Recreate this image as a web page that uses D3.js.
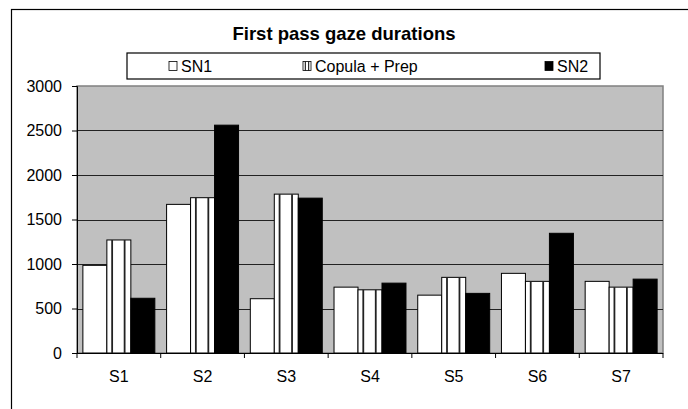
<!DOCTYPE html>
<html>
<head>
<meta charset="utf-8">
<script src="https://cdn.jsdelivr.net/npm/d3@7"></script>
<style>
  body { margin: 0; background: #fff; }
  svg { display: block; font-family: 'Liberation Sans', Arial, sans-serif; }
  .axis .domain { stroke: #000; }
  .axis line { stroke: #000; }
</style>
</head>
<body>
<div id="chart"></div>
<script>
const categories = ['S1', 'S2', 'S3', 'S4', 'S5', 'S6', 'S7']
const seriesNames = ['SN1', 'Copula + Prep', 'SN2']
const sn1 = [985, 1670, 610, 740, 650, 895, 805]
const copula = [1270, 1745, 1785, 710, 850, 805, 740]
const sn2 = [615, 2560, 1740, 785, 670, 1345, 830]
const yTicks = [0, 500, 1000, 1500, 2000, 2500, 3000]

const width = 688
const height = 409
const margin = { left: 77, right: 25, top: 86, bottom: 56 }
const plotW = width - margin.left - margin.right
const plotH = height - margin.top - margin.bottom
const fontFamily = "'Liberation Sans', Arial, sans-serif"

const svg = d3.select('#chart').append('svg')
  .attr('width', width)
  .attr('height', height)

// outer chart frame, runs off the page to the right and bottom
svg.append('rect')
  .attr('x', 11.5).attr('y', 9.5)
  .attr('width', 700).attr('height', 420)
  .attr('fill', 'none').attr('stroke', '#000').attr('stroke-width', 1.2)

svg.append('text')
  .attr('x', 344).attr('y', 40)
  .attr('text-anchor', 'middle')
  .style('font-size', '18.5px').style('font-weight', 'bold')
  .text('First pass gaze durations')

const g = svg.append('g').attr('transform', `translate(${margin.left},${margin.top})`)

const x0 = d3.scaleBand().domain(categories).range([0, plotW]).paddingInner(0).paddingOuter(0)
const x1 = d3.scaleBand().domain(seriesNames).range([0, x0.bandwidth()]).paddingOuter(0.245).paddingInner(0)
const y = d3.scaleLinear().domain([0, 3000]).range([plotH, 0])

// plot area
g.append('rect')
  .attr('width', plotW).attr('height', plotH)
  .attr('fill', '#c0c0c0').attr('stroke', '#808080').attr('stroke-width', 1.5)

g.append('g')
  .attr('class', 'grid')
  .selectAll('line')
  .data(yTicks.filter((d) => d > 0 && d < 3000))
  .join('line')
  .attr('x1', 0).attr('x2', plotW)
  .attr('y1', (d) => Math.round(y(d)) + 0.5).attr('y2', (d) => Math.round(y(d)) + 0.5)
  .attr('stroke', '#222').attr('stroke-width', 1)

const rows = categories.map((c, i) => ({ cat: c, vals: [sn1[i], copula[i], sn2[i]] }))
const fills = ['#fff', '#fff', '#000']

const groups = g.append('g').selectAll('g')
  .data(rows)
  .join('g')
  .attr('transform', (d) => `translate(${x0(d.cat)},0)`)

groups.selectAll('rect')
  .data((d) => d.vals.map((v, k) => ({ key: seriesNames[k], v, k })))
  .join('rect')
  .attr('x', (d) => x1(d.key))
  .attr('y', (d) => y(d.v))
  .attr('width', x1.bandwidth())
  .attr('height', (d) => plotH - y(d.v))
  .attr('fill', (d) => fills[d.k])
  .attr('stroke', '#000').attr('stroke-width', 1)

// vertical stripes in the Copula + Prep bars
groups.selectAll('line.stripe')
  .data((d) => [0.22, 0.74].map((f) => ({ f, v: d.vals[1] })))
  .join('line')
  .attr('class', 'stripe')
  .attr('x1', (d) => x1(seriesNames[1]) + x1.bandwidth() * d.f)
  .attr('x2', (d) => x1(seriesNames[1]) + x1.bandwidth() * d.f)
  .attr('y1', (d) => y(d.v))
  .attr('y2', plotH)
  .attr('stroke', '#222').attr('stroke-width', 1.8)

g.append('g')
  .attr('class', 'axis')
  .call(d3.axisLeft(y).tickValues(yTicks).tickSize(5).tickPadding(10).tickFormat(d3.format('d')))
  .call((a) => a.selectAll('text')
    .attr('fill', '#000')
    .attr('font-size', 16)
    .attr('font-family', fontFamily))

g.append('g')
  .attr('class', 'axis')
  .attr('transform', `translate(0,${plotH})`)
  .call(d3.axisBottom(x0).tickSize(0).tickPadding(18))
  .call((a) => a.selectAll('.domain').remove())
  .call((a) => a.selectAll('text')
    .attr('fill', '#000')
    .attr('font-size', 16)
    .attr('font-family', fontFamily))

// category separator ticks below the axis
g.append('g')
  .selectAll('line')
  .data(categories.map((c) => x0(c)).concat([plotW]))
  .join('line')
  .attr('x1', (d) => d).attr('x2', (d) => d)
  .attr('y1', plotH).attr('y2', plotH + 5)
  .attr('stroke', '#000')

g.append('line')
  .attr('x1', 0).attr('x2', plotW)
  .attr('y1', plotH + 0.5).attr('y2', plotH + 0.5)
  .attr('stroke', '#000')

// legend
const legend = svg.append('g').attr('transform', 'translate(127,53)')
legend.append('rect')
  .attr('width', 473).attr('height', 26)
  .attr('fill', '#fff').attr('stroke', '#000').attr('stroke-width', 1.2)

const legendX = [42, 176, 418]
const items = legend.selectAll('g.item')
  .data(seriesNames)
  .join('g')
  .attr('class', 'item')
  .attr('transform', (d, i) => `translate(${legendX[i]},13)`)

items.append('rect')
  .attr('x', 0).attr('y', -4.5)
  .attr('width', 8).attr('height', 9)
  .attr('fill', (d, i) => fills[i])
  .attr('stroke', '#000').attr('stroke-width', 0.8)

items.filter((d, i) => i === 1)
  .selectAll('line')
  .data([2.3, 5.7])
  .join('line')
  .attr('x1', (d) => d).attr('x2', (d) => d)
  .attr('y1', -4.5).attr('y2', 4.5)
  .attr('stroke', '#000').attr('stroke-width', 1)

items.append('text')
  .attr('x', 12).attr('y', 5.5)
  .style('font-size', '16px')
  .text((d) => d)
</script>
</body>
</html>
